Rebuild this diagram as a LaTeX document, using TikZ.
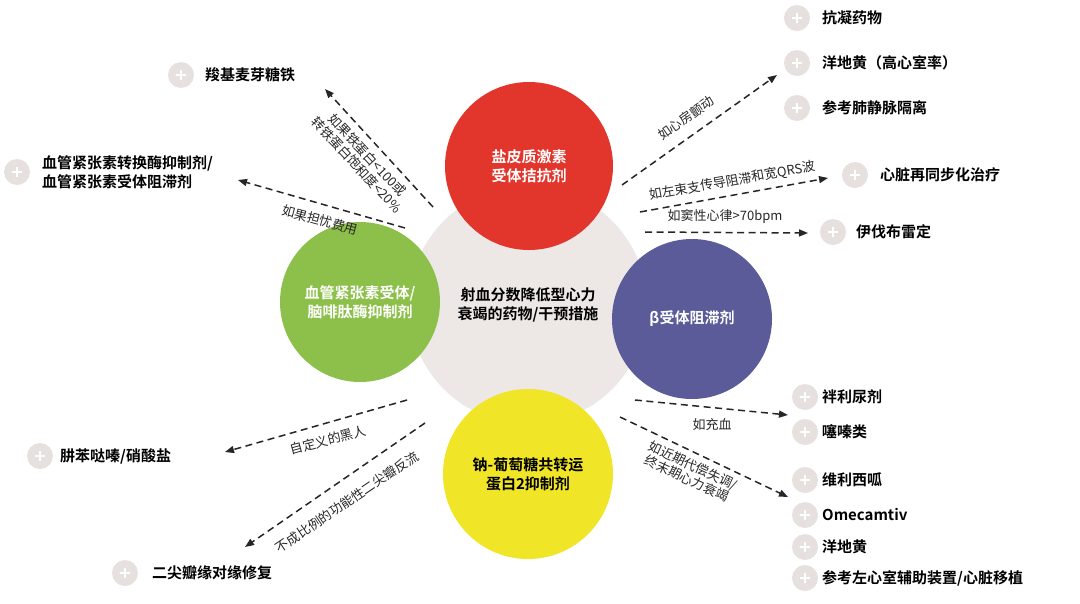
\documentclass[tikz,border=0pt]{standalone}
\usepackage{fontspec}
\setmainfont{Noto Sans CJK SC}
\newfontfamily\cjkb{Noto Sans CJK SC Bold}
\usetikzlibrary{arrows.meta,calc}
\definecolor{cred}{HTML}{E2352B}
\definecolor{cgreen}{HTML}{8DC04A}
\definecolor{cblue}{HTML}{5A5B98}
\definecolor{cyel}{HTML}{F1E527}
\definecolor{cgrey}{HTML}{EDE8E6}
\definecolor{cbul}{HTML}{E6E1DF}
\tikzset{
 arr/.style={draw=black!85,line width=1.5pt,dash pattern=on 7pt off 4.5pt,-{Triangle[length=9pt,width=7pt]}},
 lab/.style={font=\fontsize{13}{14.5}\selectfont,text=black!85,inner sep=1pt,align=center},
 item/.style={font=\cjkb\fontsize{15}{19}\selectfont,anchor=west,inner sep=0pt,align=left},
 circ/.style={circle,inner sep=0pt,font=\cjkb\fontsize{15}{19}\selectfont,align=center},
}
\newcommand{\bul}[2]{\node[circle,fill=cbul,minimum size=26pt,inner sep=0pt] (#2) at (#1) {}; \draw[white,line width=1.8pt] ($(#2)+(-5,0)$)--($(#2)+(5,0)$) ($(#2)+(0,-5)$)--($(#2)+(0,5)$);}
\begin{document}
\begin{tikzpicture}[x=1pt,y=-1pt]
\useasboundingbox (0,0) rectangle (1080,603);
\node[circle,fill=cgrey,minimum size=238pt] (c) at (528,305) {};
\node[circ,fill=cred,minimum size=168pt,text=white] (r) at (529,166) {盐皮质激素\\受体拮抗剂};
\node[circ,fill=cgreen,minimum size=160pt,text=white] (g) at (360,302) {血管紧张素受体/\\脑啡肽酶抑制剂};
\node[circ,fill=cblue,minimum size=160pt,text=white] (b) at (692,319) {β受体阻滞剂};
\node[circ,fill=cyel,minimum size=170pt,text=black] (y) at (528,474) {钠-葡萄糖共转运\\蛋白2抑制剂};
\node[font=\cjkb\fontsize{15}{19}\selectfont,align=center] (ct) at (528,305) {射血分数降低型心力\\衰竭的药物/干预措施};
\bul{181,75}{b1} \node[item] (t1) at (205,75) {羧基麦芽糖铁};
\bul{17,172}{b2} \node[item] (t2) at (42,172) {血管紧张素转换酶抑制剂/\\血管紧张素受体阻滞剂};
\bul{40,456}{b3} \node[item] (t3) at (60,456) {肼苯哒嗪/硝酸盐};
\bul{125,573}{b4} \node[item] (t4) at (152,573) {二尖瓣缘对缘修复};
\bul{797,18}{b5} \node[item] (t5) at (822,18) {抗凝药物};
\bul{797,63}{b6} \node[item] (t6) at (822,63) {洋地黄（高心室率）};
\bul{797,108}{b7} \node[item] (t7) at (822,108) {参考肺静脉隔离};
\bul{855,175}{b8} \node[item] (t8) at (880,175) {心脏再同步化治疗};
\bul{833,232}{b9} \node[item] (t9) at (856,232) {伊伐布雷定};
\bul{805,397}{b10} \node[item] (t10) at (822,397) {袢利尿剂};
\bul{805,432}{b11} \node[item] (t11) at (822,432) {噻嗪类};
\bul{805,480}{b12} \node[item] (t12) at (822,480) {维利西呱};
\bul{805,515}{b13} \node[item] (t13) at (822,515) {Omecamtiv};
\bul{805,547}{b14} \node[item] (t14) at (822,547) {洋地黄};
\bul{805,578}{b15} \node[item] (t15) at (822,578) {参考左心室辅助装置/心脏移植};
\coordinate (s1) at (433,207); \coordinate (e1) at (325,89);
\coordinate (s2) at (405,228); \coordinate (e2) at (238,180);
\coordinate (s3) at (407,400); \coordinate (e3) at (225,452);
\coordinate (s4) at (425,423); \coordinate (e4) at (245,547);
\coordinate (s5) at (622,185); \coordinate (e5) at (777,75);
\coordinate (s6) at (640,212); \coordinate (e6) at (828,178);
\coordinate (s7) at (645,232); \coordinate (e7) at (808,233);
\coordinate (s8) at (635,400); \coordinate (e8) at (788,415);
\coordinate (s9) at (620,417); \coordinate (e9) at (788,497);
\draw[arr] (s1)--(e1);
\draw[arr] (s2)--(e2);
\draw[arr] (s3)--(e3);
\draw[arr] (s4)--(e4);
\draw[arr] (s5)--(e5);
\draw[arr] (s6)--(e6);
\draw[arr] (s7)--(e7);
\draw[arr] (s8)--(e8);
\draw[arr] (s9)--(e9);
\node[lab,rotate=-47] (l1) at (362,160) {如果铁蛋白<100或\\转铁蛋白饱和度<20\%};
\node[lab,rotate=-15] (l2) at (320,220) {如果担忧费用};
\node[lab,rotate=15] (l3) at (328,440) {自定义的黑人};
\node[lab,rotate=34] (l4) at (347,502) {不成比例的功能性二尖瓣反流};
\node[lab,rotate=35] (l5) at (686,118) {如心房颤动};
\node[lab,rotate=10] (l6) at (732,181) {如左束支传导阻滞和宽QRS波};
\node[lab] (l7) at (725,216) {如窦性心律>70bpm};
\node[lab] (l8) at (712,425) {如充血};
\node[lab,rotate=-25] (l9) at (690,472) {如近期代偿失调/\\终末期心力衰竭};
\end{tikzpicture}
\end{document}
